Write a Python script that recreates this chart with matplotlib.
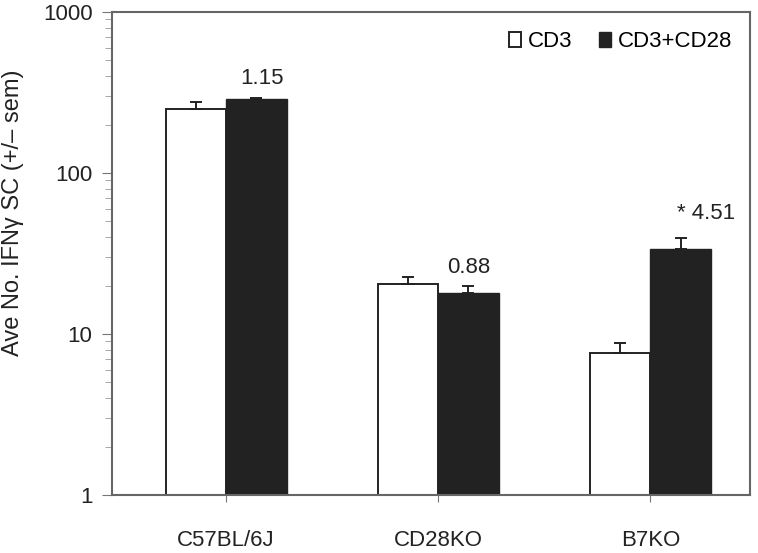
import numpy as np
import matplotlib
matplotlib.use('Agg')
import matplotlib.pyplot as plt

plt.rcParams['font.family'] = ['Liberation Sans', 'DejaVu Sans']

# Data
strains = ['C57BL/6J', 'CD28KO', 'B7KO']
cd3 = [249, 20.4, 7.6]
cd3_sem = [27, 2.3, 1.2]
cd3_cd28 = [287, 17.9, 33.9]
cd3_cd28_sem = [4, 2.0, 5.7]
ratio_labels = ['1.15', '0.88', '* 4.51']

fig = plt.figure(figsize=(7.58, 5.53), dpi=100)
ax = fig.add_axes([0.1478, 0.1049, 0.8417, 0.8734])

x = np.arange(len(strains))
width = 0.285

ax.bar(x - width / 2, cd3, width, yerr=[np.zeros(3), cd3_sem], color='white',
       edgecolor='#222222', linewidth=1.4, label='CD3',
       error_kw=dict(ecolor='#222222', elinewidth=1.4, capsize=4, capthick=1.4))
ax.bar(x + width / 2, cd3_cd28, width, yerr=[np.zeros(3), cd3_cd28_sem], color='#222222',
       edgecolor='#222222', linewidth=1.0, label='CD3+CD28',
       error_kw=dict(ecolor='#222222', elinewidth=1.4, capsize=4, capthick=1.4))

# Fold-change labels above the CD3+CD28 bars (offsets in pixels)
label_dx = [6, 0, 25]
label_dy = [20, 18, 24]
tops = np.array(cd3_cd28) + np.array(cd3_cd28_sem)
for i, txt in enumerate(ratio_labels):
    ax.annotate(txt, (x[i] + width / 2, tops[i]), xytext=(label_dx[i] * 0.72, label_dy[i] * 0.72),
                textcoords='offset points', ha='center', va='center', fontsize=16, color='#222222')

ax.set_yscale('log')
ax.set_ylim(1, 1000)
ax.set_xlim(-0.538, 2.47)
ax.set_xticks(x)
ax.set_xticklabels(strains, fontsize=16)
ax.set_yticks([1, 10, 100, 1000])
ax.set_yticklabels(['1', '10', '100', '1000'], fontsize=16)
ax.tick_params(axis='x', length=5, color='#777777', pad=20)
ax.tick_params(axis='y', which='major', length=7, color='#777777', pad=7)
ax.tick_params(axis='y', which='minor', length=5, color='#999999')
ax.tick_params(colors='#777777', labelcolor='#222222')

for s in ax.spines.values():
    s.set_color('#666666')
    s.set_linewidth(1.5)

ax.set_ylabel('Ave No. IFNγ SC (+/– sem)', fontsize=17, color='#222222')
ax.yaxis.set_label_coords(-0.138, 0.584)

ax.legend(loc='upper right', bbox_to_anchor=(0.972, 0.96), ncol=2, frameon=False,
          fontsize=16, handlelength=0.55, handleheight=0.6, handletextpad=0.3,
          columnspacing=1.2, borderpad=0, borderaxespad=0)

fig.savefig('out.png', dpi=100)
